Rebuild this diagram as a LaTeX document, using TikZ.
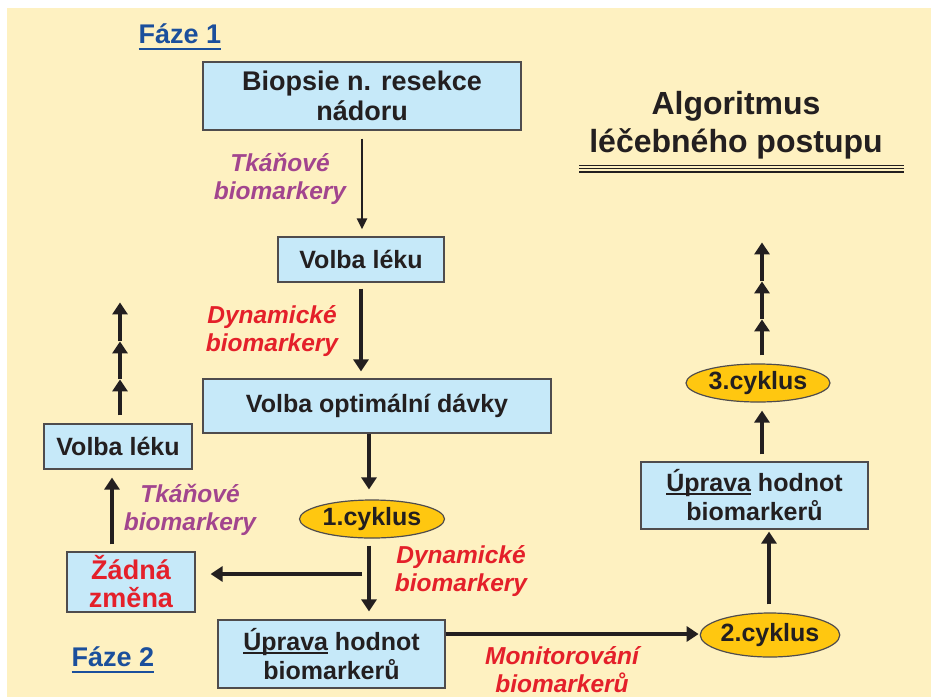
\documentclass[tikz,border=0pt]{standalone}
\usepackage{fontspec}
\setmainfont{Liberation Sans}
\usetikzlibrary{arrows.meta,shapes.geometric,calc}
\definecolor{bgc}{RGB}{254,241,193}
\definecolor{boxc}{RGB}{198,233,249}
\definecolor{ellc}{RGB}{255,199,16}
\definecolor{darkc}{RGB}{35,31,32}
\definecolor{redc}{RGB}{228,32,42}
\definecolor{purc}{RGB}{162,69,142}
\definecolor{bluec}{RGB}{27,79,156}
\newcommand\myul[1]{\setbox0\hbox{#1}\rlap{\rule[-3.2pt]{\wd0}{1.8pt}}\box0\relax}
\tikzset{
  box/.style={draw=darkc!80, line width=1.2pt, fill=boxc, align=center, inner sep=0pt,
    font=\fontsize{25}{29}\selectfont\bfseries, text=darkc},
  cyc/.style={ellipse, draw=darkc!80, line width=1.2pt, fill=ellc, inner sep=0pt,
    font=\fontsize{25}{29}\selectfont\bfseries, text=darkc},
  lab/.style={align=center, font=\fontsize{24.5}{28}\selectfont\bfseries\itshape, inner sep=0pt},
  thick arrow/.style={draw=darkc, line width=4.5pt, -{Triangle[width=15pt,length=12pt]}},
  thin arrow/.style={draw=darkc, line width=2.6pt, -{Triangle[width=10pt,length=11pt]}},
  phase/.style={font=\fontsize{27}{30}\selectfont\bfseries, text=bluec, inner sep=0pt}
}
\begin{document}
\begin{tikzpicture}[x=1pt,y=-1pt]
\useasboundingbox (0,0) rectangle (931,697);
\fill[bgc] (7,8) rectangle (931,697);

% title
\node[font=\fontsize{32}{38}\selectfont\bfseries, text=darkc, align=center] (title) at (736,125) {Algoritmus\\léčebného postupu};
\foreach \yy in {165.5,168.8,172.1}
  \draw[darkc, line width=1.3pt] (579,\yy) -- (904,\yy);

% phases
\node[phase] (f1) at (180,34) {Fáze 1};
\draw[bluec, line width=2.5pt] ([yshift=-5pt]f1.south west) -- ([yshift=-5pt]f1.south east);
\node[phase] (f2) at (113,657) {Fáze 2};
\draw[bluec, line width=2.5pt] ([yshift=-5pt]f2.south west) -- ([yshift=-5pt]f2.south east);

% boxes
\node[box, minimum width=318pt, minimum height=68pt, font=\fontsize{27}{30}\selectfont\bfseries] (bio) at (362,96) {Biopsie n. resekce\\nádoru};
\node[box, minimum width=166pt, minimum height=45pt] (vl1) at (361,259.5) {Volba léku};
\node[box, minimum width=348pt, minimum height=54pt] (vod) at (377,406) {Volba optimální dávky};
\node[cyc, minimum width=145pt, minimum height=38pt] (c1) at (372,519) {1.cyklus};
\node[box, minimum width=128pt, minimum height=60pt, text=redc, font=\fontsize{27}{28}\selectfont\bfseries] (zz) at (131,582) {Žádná\\změna};
\node[box, minimum width=148pt, minimum height=45pt] (vl2) at (118,446.5) {Volba léku};
\node[box, minimum width=227pt, minimum height=68pt] (up1) at (331.5,654) {\myul{Úprava} hodnot\\biomarkerů};
\node[cyc, minimum width=136pt, minimum height=44pt] (c2) at (770,635) {2.cyklus};
\node[box, minimum width=227pt, minimum height=67pt] (up2) at (754.5,495.5) {\myul{Úprava} hodnot\\biomarkerů};
\node[cyc, minimum width=144pt, minimum height=38pt] (c3) at (758,383) {3.cyklus};

% labels
\node[lab, text=purc] (t1) at (280,179) {Tkáňové\\biomarkery};
\node[lab, text=redc] (d1) at (272,331) {Dynamické\\biomarkery};
\node[lab, text=purc] (t2) at (190,510) {Tkáňové\\biomarkery};
\node[lab, text=redc] (d2) at (461,571) {Dynamické\\biomarkery};
\node[lab, text=redc] (m1) at (562,670) {Monitorování\\biomarkerů};

% connectors
\coordinate (a0) at (bio.south);
\draw[thin arrow, shorten <=8pt, shorten >=7pt] (a0) -- (a0 |- vl1.north);
\coordinate (a1) at (vl1.south);
\draw[thick arrow, shorten <=6pt, shorten >=7pt] (a1) -- (a1 |- vod.north);
\coordinate (a2) at ($(vod.south)+(-8,0)$);
\draw[thick arrow, shorten >=10pt] (a2) -- (a2 |- c1.north);
\coordinate (a3) at ($(c1.south)+(-3,0)$);
\draw[thick arrow, shorten <=7pt, shorten >=8pt] (a3) -- (a3 |- up1.north);
\coordinate (split) at (362,574);
\draw[thick arrow, shorten >=15pt] (split) -- (split -| zz.east);
\coordinate (a4) at ($(zz.north)+(-19,0)$);
\draw[thick arrow, shorten <=7pt, shorten >=8pt] (a4) -- (a4 |- vl2.south);
\coordinate (l0) at ($(vl2.north)+(2,-8)$);
\coordinate (l1) at ($(vl2.north)+(2,-44)$);
\coordinate (l2) at ($(vl2.north)+(2,-82)$);
\coordinate (l3) at ($(vl2.north)+(2,-121)$);
\draw[thick arrow] (l0) -- (l1);
\draw[thick arrow] (l1) -- (l2);
\draw[thick arrow] (l2) -- (l3);
\coordinate (a5) at ($(up1.east)+(0,-20)$);
\draw[thick arrow, shorten >=1pt] (a5) -- (a5 -| c2.west);
\coordinate (a6) at ($(c2.north)+(-1,0)$);
\draw[thick arrow, shorten <=8pt, shorten >=2pt] (a6) -- (a6 |- up2.south);
\coordinate (a7) at ($(up2.north)+(7.5,0)$);
\draw[thick arrow, shorten <=7pt, shorten >=8pt] (a7) -- (a7 |- c3.south);
\coordinate (r0) at ($(c3.north)+(4,-8)$);
\coordinate (r1) at ($(c3.north)+(4,-44)$);
\coordinate (r2) at ($(c3.north)+(4,-82)$);
\coordinate (r3) at ($(c3.north)+(4,-121)$);
\draw[thick arrow] (r0) -- (r1);
\draw[thick arrow] (r1) -- (r2);
\draw[thick arrow] (r2) -- (r3);
\end{tikzpicture}
\end{document}
